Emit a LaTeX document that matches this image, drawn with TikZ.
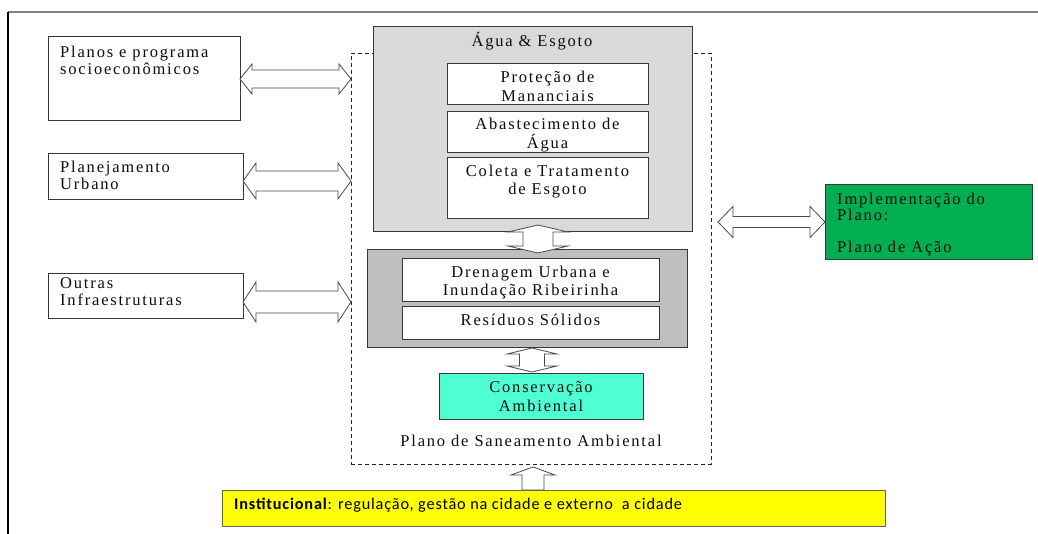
\documentclass[tikz,border=0pt]{standalone}
\usepackage{fontspec}
\setmainfont{Liberation Serif}[LetterSpace=11]
\newfontfamily\instfont{Carlito}[LetterSpace=5]
\usetikzlibrary{calc}

\definecolor{grayA}{RGB}{217,217,217}
\definecolor{grayB}{RGB}{191,191,191}
\definecolor{aqua}{RGB}{77,255,210}
\definecolor{plangreen}{RGB}{0,176,80}
\definecolor{instyellow}{RGB}{255,255,0}

% first-line strut: node north sits 15pt above the first baseline
\newcommand\fs{\rule{0pt}{15pt}}

% horizontal double block arrow: left tip, right tip, head length, half head, half shaft
\newcommand\hdbl[5]{%
  \draw[blockarrow] (#1) -- ++(#3,-#4) -- ++(0,#4-#5) -- ($(#2)+(-#3,-#5)$)
    -- ++(0,#5-#4) -- (#2) -- ++(-#3,#4) -- ++(0,#5-#4) -- ($(#1)+(#3,#5)$)
    -- ++(0,#4-#5) -- cycle;}
% vertical double block arrow: top tip, bottom tip, head length, half head, half shaft
\newcommand\vdbl[5]{%
  \draw[blockarrow] (#1) -- ++(#4,#3) -- ++(#5-#4,0) -- ($(#2)+(#5,-#3)$)
    -- ++(#4-#5,0) -- (#2) -- ++(-#4,-#3) -- ++(#4-#5,0) -- ($(#1)+(-#5,#3)$)
    -- ++(#5-#4,0) -- cycle;}
% single upward block arrow: tip, base centre, head length, half head, half shaft
\newcommand\uparr[5]{%
  \draw[blockarrow] (#1) -- ++(#4,#3) -- ++(#5-#4,0) -- ($(#2)+(#5,0)$)
    -- ($(#2)+(-#5,0)$) -- ($(#1)+(-#5,#3)$) -- ++(#5-#4,0) -- cycle;}

\begin{document}
\begin{tikzpicture}[x=1pt,y=-1pt,
  box/.style={draw=black!78, line width=0.8pt, fill=white, inner sep=0pt,
    outer sep=0pt, anchor=north west},
  lbl/.style={inner sep=0pt, text=black!95, font=\fontsize{16.5}{18.5}\selectfont},
  lblL/.style={lbl, align=left, anchor=north west, font=\fontsize{16.5}{17}\selectfont},
  lblC/.style={lbl, align=center, anchor=north},
  blockarrow/.style={draw=black!70, line width=0.8pt, fill=white, line join=miter}]
\useasboundingbox (0,0) rectangle (1038,534);

% page frame
\draw[black!50, line width=1.6pt] (8,12) -- (1038,12);
\draw[black, line width=1.2pt] (8,12) -- (8,534);

% plan boundary
\node[box, fill=none, draw=black!85, line width=0.7pt, dash pattern=on 4pt off 3pt,
  minimum width=360, minimum height=411] (dash) at (351,53) {};

% external inputs
\node[box, minimum width=192, minimum height=84] (plan1) at (48,36) {};
\node[lblL] (plan1t) at (60,42.5) {\fs Planos e programa\\socioeconômicos};
\node[box, minimum width=195, minimum height=46] (plan2) at (48,153) {};
\node[lblL] (plan2t) at (60,157.5) {\fs Planejamento\\Urbano};
\node[box, minimum width=195, minimum height=45] (plan3) at (48,273) {};
\node[lblL] (plan3t) at (60,273.5) {\fs Outras\\Infraestruturas};

% water and sewage block
\node[box, fill=grayA, minimum width=319, minimum height=205] (agua) at (373,26) {};
\node[lblC] (aguat) at (532,31.5) {\fs Água \& Esgoto};
\node[box, minimum width=201, minimum height=41] (prot) at (447,63) {};
\node[lblC, font=\fontsize{16.5}{19}\selectfont] (prott) at (547.5,67.5) {\fs Proteção de\\Mananciais};
\node[box, minimum width=201, minimum height=41] (abast) at (447,111) {};
\node[lblC, font=\fontsize{16.5}{19}\selectfont] (abastt) at (547.5,114.5) {\fs Abastecimento de\\Água};
\node[box, minimum width=201, minimum height=61] (coleta) at (447,157) {};
\node[lblC, font=\fontsize{16.5}{18}\selectfont] (coletat) at (547.5,161.5) {\fs Coleta e Tratamento\\de Esgoto};

% drainage and solid waste block
\node[box, fill=grayB, minimum width=320, minimum height=98] (drenb) at (367,249) {};
\node[box, minimum width=257, minimum height=43] (dren) at (402,258) {};
\node[lblC, font=\fontsize{16.5}{18}\selectfont] (drent) at (530.5,262.5) {\fs Drenagem Urbana e\\Inundação Ribeirinha};
\node[box, minimum width=257, minimum height=33] (resid) at (402,306) {};
\node[lblC] (residt) at (530.5,310.5) {\fs Resíduos Sólidos};

% environmental conservation
\node[box, fill=aqua, minimum width=204, minimum height=46] (cons) at (439,373) {};
\node[lblC, font=\fontsize{16.5}{19}\selectfont] (const) at (541,377.5) {\fs Conservação\\Ambiental};

\node[lblC] (sanea) at (531,431.5) {\fs Plano de Saneamento Ambiental};

% implementation
\node[box, fill=plangreen, minimum width=207, minimum height=75] (impl) at (825,184) {};
\node[lblL, font=\fontsize{16.5}{16}\selectfont] (implt) at (837,189.5) {\fs Implementação do\\Plano:\\[16pt]Plano de Ação};

% institutional base
\node[box, fill=instyellow, draw=black!60, minimum width=663, minimum height=36] (inst) at (222,490) {};
\node[inner sep=0pt, anchor=base west, font=\instfont\fontsize{16.3}{18}\selectfont] (instt)
  at (234,509.5) {\textbf{Institucional}: regulação, gestão na cidade e externo~ a cidade};

% connector end points
\coordinate (a1l) at (plan1.east |- 0,79);
\coordinate (a1r) at (dash.west |- 0,79);
\coordinate (a2l) at (plan2.east |- 0,181);
\coordinate (a2r) at (dash.west |- 0,181);
\coordinate (a3l) at (plan3.east |- 0,302);
\coordinate (a3r) at (dash.west |- 0,302);
\coordinate (a4l) at (718,222);
\coordinate (a4r) at (impl.west |- 0,222);
\coordinate (v1t) at (538,225);
\coordinate (v1b) at (538,253);
\coordinate (v2t) at (532,348);
\coordinate (v2b) at (532,372);
\coordinate (upt) at (533,467);
\coordinate (upb) at (inst.north -| 533,0);

% block arrows
\hdbl{a1l}{a1r}{12}{15}{9}
\hdbl{a2l}{a2r}{13}{18}{10}
\hdbl{a3l}{a3r}{13}{20}{11}
\hdbl{a4l}{a4r}{15}{15.5}{5.5}
\vdbl{v1t}{v1b}{7}{30}{15}
\vdbl{v2t}{v2b}{6}{25}{12.5}
\uparr{upt}{upb}{8}{22}{11}
\end{tikzpicture}
\end{document}
